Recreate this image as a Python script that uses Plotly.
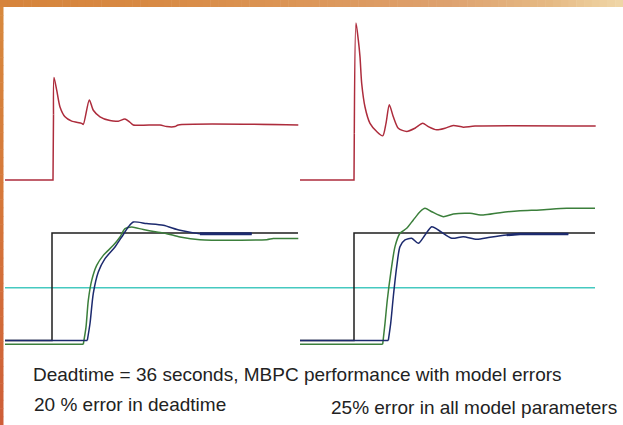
import plotly.graph_objects as go
import numpy as np

W, H = 623, 425

# ---------------- data (time in s relative to setpoint step; values normalised) ----------------
# Top-left: controller output, 20 % error in deadtime
tl_t = [-47, 1, 1.5, 2, 4.7, 8, 13, 19.7, 29.7, 31.3, 37.3, 41.3, 48, 58, 66.3, 73, 78, 81.3, 108, 114.7, 123, 126.3, 246.3]
tl_u = [0, 0, 1.2, 1.88, 1.65, 1.34, 1.16, 1.08, 1.04, 1.02, 1.47, 1.28, 1.16, 1.09, 1.08, 1.12, 1.06, 1.01, 1.01, 0.98, 0.98, 1.01, 1.01]

# Top-right: controller output, 25 % error in all model parameters
tr_t = [-54, 0, 0.3, 2, 4.3, 6, 7.7, 11, 16, 22.7, 28.7, 32, 35.3, 39.3, 44.3, 52.7, 61, 68.7, 74.3, 82.7, 91, 99.3, 109.3, 121, 241.7]
tr_u = [0, 0, 0.86, 2.88, 2.57, 2.26, 1.77, 1.34, 1.04, 0.89, 0.81, 1.04, 1.38, 1.16, 0.95, 0.89, 0.95, 1.04, 0.98, 0.92, 0.95, 1.0, 0.97, 0.99, 0.99]

# Bottom-left: setpoint and outputs
bl_sp_t = [-47, 0, 0, 246]
bl_sp_v = [0, 0, 1, 1]
bl_g_t = [-47, 31.3, 34, 36.3, 39.7, 44.7, 51.3, 61.3, 68, 73, 79.7, 91.3, 104.7, 114.7, 128, 148, 214.7, 221.3, 246.3]
bl_g_v = [-0.035, -0.035, 0.124, 0.373, 0.559, 0.699, 0.792, 0.885, 0.963, 1.041, 1.056, 1.032, 1.009, 0.994, 0.963, 0.938, 0.938, 0.948, 0.948]
bl_b_t = [-47, 35.3, 38, 41.3, 46.3, 53, 63, 69.7, 76.3, 81.3, 94.7, 111.3, 128, 148, 158, 199.7]
bl_b_v = [0, 0, 0.158, 0.438, 0.637, 0.761, 0.870, 0.963, 1.056, 1.102, 1.088, 1.072, 1.025, 0.994, 0.994, 0.994]

# Bottom-right: setpoint and outputs
br_sp_t = [-54, 0, 0, 241]
br_sp_v = [0, 0, 1, 1]
br_g_t = [-54, 28.7, 31, 33.3, 36.7, 41, 46, 52.7, 59.3, 66, 71, 77.7, 89.3, 99.3, 116, 129.3, 146, 166, 186, 212.7, 241]
br_g_v = [-0.035, -0.035, 0.16, 0.377, 0.625, 0.873, 0.997, 1.044, 1.121, 1.198, 1.230, 1.198, 1.152, 1.177, 1.183, 1.167, 1.189, 1.207, 1.214, 1.230, 1.230]
br_b_t = [-54, 34.3, 36.7, 39.3, 42.7, 46, 51, 57.7, 64.3, 71, 77.7, 84.3, 97.7, 109.3, 122.7, 136, 152.7, 166, 214.3]
br_b_v = [0, 0, 0.16, 0.407, 0.687, 0.873, 0.935, 0.951, 0.904, 0.981, 1.059, 1.028, 0.951, 0.966, 0.941, 0.960, 0.981, 0.991, 0.991]

# Reference (cyan) level
ref_level = 0.49
left_span = [-47, 248]
right_span = [-54, 241]

texts = {
    "title": "Deadtime = 36 seconds, MBPC performance with model errors",
    "left": "20 % error in deadtime",
    "right": "25% error in all model parameters",
}

# ---------------- styles ----------------
RED = "#ad2c3c"
BLUE = "#1c2a6e"
GREEN = "#3b7f3b"
BLACK = "#1e1e1e"
CYAN = "#45c9c0"
LW = 1.5

fig = go.Figure()

def line(x, y, color, xa, ya, width=LW, smooth=False):
    ln = dict(color=color, width=width)
    if smooth:
        ln.update(shape="spline", smoothing=0.7)
    fig.add_trace(go.Scatter(x=x, y=y, mode="lines", xaxis=xa, yaxis=ya,
                             line=ln, hoverinfo="skip", showlegend=False))

def response(t, v, color, xa, ya, k):
    # straight flat/step part up to index k, smoothed response from there on
    line(t[:k + 1], v[:k + 1], color, xa, ya)
    line(t[k:], v[k:], color, xa, ya, smooth=True)

# top panels
response(tl_t, tl_u, RED, "x", "y", 2)
response(tr_t, tr_u, RED, "x2", "y", 2)
# bottom panels
line(left_span, [ref_level, ref_level], CYAN, "x", "y2")
line(right_span, [ref_level, ref_level], CYAN, "x2", "y2")
line(bl_sp_t, bl_sp_v, BLACK, "x", "y2")
line(br_sp_t, br_sp_v, BLACK, "x2", "y2")
response(bl_g_t, bl_g_v, GREEN, "x", "y2", 1)
response(br_g_t, br_g_v, GREEN, "x2", "y2", 1)
response(bl_b_t, bl_b_v, BLUE, "x", "y2", 1)
response(br_b_t, br_b_v, BLUE, "x2", "y2", 1)
line(bl_b_t[-3:], bl_b_v[-3:], BLUE, "x", "y2", width=3)
line(br_b_t[-3:], br_b_v[-3:], BLUE, "x2", "y2", width=2.6)

def fx(px):
    return px / W

def fy(py):
    return 1 - py / H

hidden = dict(visible=False, showgrid=False, zeroline=False, fixedrange=True)
# pixel layout: 0 -> py 180, 1 -> py 125.5 on top; 0 -> py 340.5, 1 -> py 233 on bottom
top_scale = 54.5
bot_scale = 107.5
fig.update_layout(
    width=W, height=H,
    margin=dict(l=0, r=0, t=0, b=0),
    paper_bgcolor="white", plot_bgcolor="rgba(0,0,0,0)",
    xaxis=dict(domain=[0, fx(300)], range=[-52, 248], **hidden),
    xaxis2=dict(domain=[fx(300), 1], range=[-54, 269], **hidden),
    yaxis=dict(domain=[fy(190), fy(8)], range=[-(190 - 180) / top_scale, (180 - 8) / top_scale], **hidden),
    yaxis2=dict(domain=[fy(355), fy(195)], range=[-(355 - 340.5) / bot_scale, (340.5 - 195) / bot_scale], **hidden),
    showlegend=False,
)

# decorative orange frame (gradient via slices)
shapes = []
stops_x = [0, 150, 300, 450, 550, 623]
stops_c = np.array([[214, 132, 60], [216, 138, 68], [220, 150, 88], [222, 162, 112], [230, 186, 132], [240, 215, 168]])
N = 80
for i in range(N):
    x0 = i * W / N
    x1 = (i + 1) * W / N + 0.5
    xm = (x0 + x1) / 2
    c = [int(np.interp(xm, stops_x, stops_c[:, k])) for k in range(3)]
    shapes.append(dict(type="rect", xref="paper", yref="paper", x0=fx(x0), x1=fx(min(x1, W)),
                       y0=fy(7), y1=1, fillcolor=f"rgb({c[0]},{c[1]},{c[2]})", line=dict(width=0), layer="above"))
stops_y = [0, 200, 425]
stops_cy = np.array([[216, 138, 62], [214, 120, 58], [206, 94, 56]])
M = 50
for i in range(M):
    y0 = 7 + i * (H - 7) / M
    y1 = 7 + (i + 1) * (H - 7) / M + 0.5
    ym = (y0 + y1) / 2
    c = [int(np.interp(ym, stops_y, stops_cy[:, k])) for k in range(3)]
    shapes.append(dict(type="rect", xref="paper", yref="paper", x0=0, x1=fx(3.5),
                       y0=fy(min(y1, H)), y1=fy(y0), fillcolor=f"rgb({c[0]},{c[1]},{c[2]})", line=dict(width=0), layer="above"))
fig.update_layout(shapes=shapes)

font = dict(family="Liberation Sans, Arial, sans-serif", size=19, color="#222222")
fig.add_annotation(x=fx(31), y=fy(374), xref="paper", yref="paper", text=texts["title"],
                   showarrow=False, xanchor="left", yanchor="middle", font=font)
fig.add_annotation(x=fx(32), y=fy(404), xref="paper", yref="paper", text=texts["left"],
                   showarrow=False, xanchor="left", yanchor="middle", font=font)
fig.add_annotation(x=fx(329), y=fy(407), xref="paper", yref="paper", text=texts["right"],
                   showarrow=False, xanchor="left", yanchor="middle", font=font)

fig.write_html("out.html", config={"displayModeBar": False},
               post_script="document.body.style.margin='0px';document.body.style.overflow='hidden';")
